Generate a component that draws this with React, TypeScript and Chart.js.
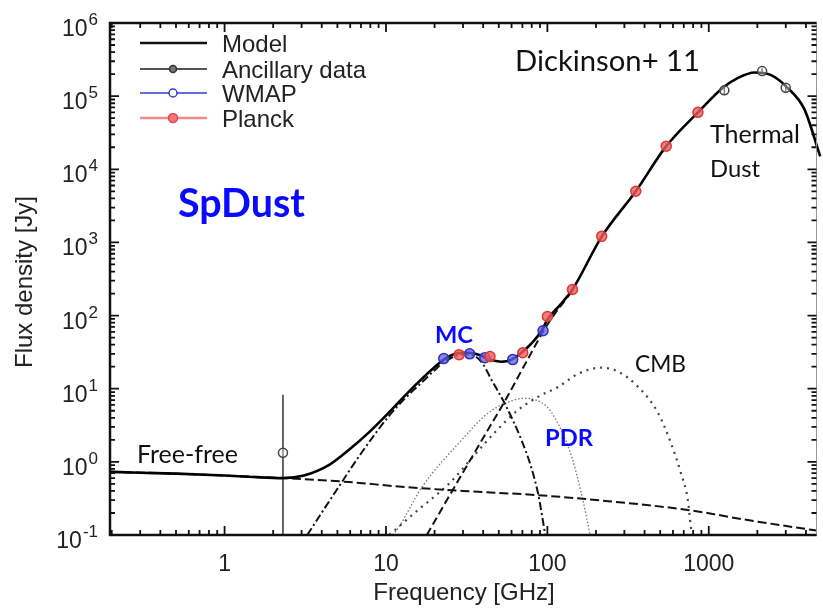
import React, { useEffect, useRef } from 'react';
import { Chart, registerables } from 'chart.js';

Chart.register(...registerables);

// ---------- data (frequency in GHz, flux density in Jy) ----------
const modelFreq = [0.195, 0.3, 0.5, 1, 1.5, 2.3, 3.1, 4.45, 5.9, 7.9, 10.4, 13.3, 16, 19.8, 22.8, 27, 32.5, 38, 43.2, 52, 60, 69, 80, 92, 100, 120, 143, 217, 353, 545, 857, 1249, 1500, 1920, 2415, 3075, 3915, 4900];
const modelFlux = [0.73, 0.71, 0.69, 0.65, 0.62, 0.6, 0.65, 0.91, 1.46, 2.57, 4.7, 8.3, 12.5, 19.4, 25, 30, 31, 29, 25.5, 23.4, 25, 31, 42, 62, 88, 140, 227, 1200, 5000, 20700, 60000, 135000, 175000, 210000, 195000, 130000, 66000, 15000];

const freeFreeFreq = [0.195, 0.5, 1, 2.3, 5.9, 12, 30, 88, 238, 742, 1740, 4650];
const freeFreeFlux = [0.73, 0.69, 0.65, 0.6, 0.53, 0.46, 0.4, 0.35, 0.29, 0.22, 0.16, 0.115];

const spinningFreq = [3.25, 4.9, 7, 10.4, 13.3, 16, 19.8, 22.8, 27, 31, 35, 40, 45, 55, 69, 80, 88, 97];
const spinningFlux = [0.1, 0.4, 1.3, 4.2, 7.6, 11.2, 17.5, 23, 28, 29.5, 28.5, 21.5, 13.3, 6.0, 2.0, 0.8, 0.35, 0.1];

const thermalFreq = [17.9, 25, 32.5, 45, 55, 73, 100, 143];
const thermalFlux = [0.1, 0.36, 0.97, 3.3, 7, 22, 75, 220];

const cmbFreq = [10.5, 15, 24.5, 32.5, 47.8, 65, 88, 117, 155, 215, 274, 365, 484, 582, 671, 742, 774, 790];
const cmbFlux = [0.1, 0.2, 0.5, 1.0, 2.6, 5.0, 7.8, 10.6, 16, 19.4, 17.1, 10.6, 4.7, 1.82, 0.71, 0.3, 0.13, 0.1];

const pdrFreq = [11, 12, 16.7, 29.5, 43.2, 60, 72, 85, 100, 112, 125, 141, 162, 184];
const pdrFlux = [0.1, 0.128, 0.45, 2.0, 4.7, 6.8, 7.4, 7.0, 5.6, 3.9, 2.4, 1.2, 0.38, 0.1];

const wmapFreq = [22.8, 33, 41, 61, 94];
const wmapFlux = [25.8, 30, 26.6, 25, 62];

const planckFreq = [28.4, 44.1, 70.4, 100, 143, 217, 353, 545, 857];
const planckFlux = [29.2, 27.5, 31, 97, 227, 1210, 5000, 20700, 60000];

const ancillaryFreq = [2.3, 1249, 2141, 2998];
const ancillaryFlux = [1.33, 120000, 220000, 130000];
const ancillaryErrLow = [0.1, 105000, 200000, 115000];
const ancillaryErrHigh = [8.3, 135000, 240000, 145000];

const xTickValues = [1, 10, 100, 1000];
const xTickLabels = ['1', '10', '100', '1000'];
const yTickExponents = [-1, 0, 1, 2, 3, 4, 5, 6];

const legendLabels = ['Model', 'Ancillary data', 'WMAP', 'Planck'];

const X_MIN = 0.195;
const X_MAX = 4650;
const Y_MIN = 0.1;
const Y_MAX = 1e6;

const AXIS_FONT = '"Liberation Sans", Arial, sans-serif';
const NOTE_FONT = 'Lato, "Open Sans", sans-serif';

const pts = (xs: number[], ys: number[]) => xs.map((x, i) => ({ x, y: ys[i] }));

function fitText(ctx: CanvasRenderingContext2D, text: string, x: number, y: number, weight: string, family: string, size: number, targetWidth: number, color: string) {
  ctx.font = `${weight} ${size}px ${family}`;
  const w = ctx.measureText(text).width;
  const s = w > 0 ? size * targetWidth / w : size;
  ctx.font = `${weight} ${s.toFixed(2)}px ${family}`;
  ctx.fillStyle = color;
  ctx.textAlign = 'left';
  ctx.textBaseline = 'alphabetic';
  ctx.fillText(text, x, y);
}

const decorPlugin = {
  id: 'decor',
  beforeDatasetsDraw(chart: any) {
    const { ctx, scales } = chart;
    const xs = scales.x, ys = scales.y;
    ctx.save();
    ctx.strokeStyle = '#333';
    ctx.lineWidth = 1.5;
    for (let i = 0; i < ancillaryFreq.length; i++) {
      const px = xs.getPixelForValue(ancillaryFreq[i]);
      const y1 = ys.getPixelForValue(ancillaryErrLow[i]);
      const y2 = ys.getPixelForValue(ancillaryErrHigh[i]);
      ctx.beginPath();
      ctx.moveTo(px, y1);
      ctx.lineTo(px, y2);
      ctx.stroke();
    }
    ctx.restore();
  },
  afterDatasetsDraw(chart: any) {
    const { ctx, chartArea: a, scales } = chart;
    const xs = scales.x, ys = scales.y;
    ctx.save();

    // frame
    ctx.strokeStyle = '#111';
    ctx.lineWidth = 2.5;
    ctx.beginPath();
    ctx.moveTo(a.right, a.top);
    ctx.lineTo(a.left, a.top);
    ctx.lineTo(a.left, a.bottom);
    ctx.lineTo(a.right, a.bottom);
    ctx.stroke();
    ctx.strokeStyle = '#999';
    ctx.lineWidth = 1;
    ctx.beginPath();
    ctx.moveTo(a.right, a.top);
    ctx.lineTo(a.right, a.bottom);
    ctx.stroke();

    // ticks (inward, all sides)
    ctx.strokeStyle = '#111';
    ctx.lineWidth = 1.8;
    const decadesX = [0.1, 1, 10, 100, 1000];
    for (const d of decadesX) {
      for (let m = 1; m <= 9; m++) {
        const v = m * d;
        if (v < X_MIN || v > X_MAX) continue;
        const px = xs.getPixelForValue(v);
        const len = m === 1 ? 9 : 5;
        ctx.beginPath();
        ctx.moveTo(px, a.bottom);
        ctx.lineTo(px, a.bottom - len);
        ctx.moveTo(px, a.top);
        ctx.lineTo(px, a.top + len);
        ctx.stroke();
      }
    }
    for (let e = -1; e <= 6; e++) {
      for (let m = 1; m <= 9; m++) {
        const v = m * Math.pow(10, e);
        if (v < Y_MIN || v > Y_MAX) continue;
        const py = ys.getPixelForValue(v);
        const len = m === 1 ? 9 : 5;
        ctx.beginPath();
        ctx.moveTo(a.left, py);
        ctx.lineTo(a.left + len, py);
        ctx.moveTo(a.right, py);
        ctx.lineTo(a.right - len, py);
        ctx.stroke();
      }
    }

    // x tick labels
    ctx.fillStyle = '#222';
    ctx.font = `23px ${AXIS_FONT}`;
    ctx.textAlign = 'center';
    ctx.textBaseline = 'alphabetic';
    xTickValues.forEach((v, i) => {
      ctx.fillText(xTickLabels[i], xs.getPixelForValue(v), a.bottom + 36);
    });

    // y tick labels 10^n
    const rightEdge = a.left - 12;
    yTickExponents.forEach((e) => {
      const py = ys.getPixelForValue(Math.pow(10, e));
      const expText = e < 0 ? '-' + Math.abs(e) : String(e);
      ctx.font = `17px ${AXIS_FONT}`;
      const ew = ctx.measureText(expText).width;
      ctx.textAlign = 'left';
      ctx.fillText(expText, rightEdge - ew, py + 2);
      ctx.font = `23px ${AXIS_FONT}`;
      const bw = ctx.measureText('10').width;
      ctx.fillText('10', rightEdge - ew - bw - 1, py + 13);
    });

    // axis titles
    ctx.font = `24px ${AXIS_FONT}`;
    ctx.textAlign = 'center';
    ctx.fillText('Frequency [GHz]', 464, 600);
    ctx.save();
    ctx.translate(32, 282);
    ctx.rotate(-Math.PI / 2);
    ctx.fillText('Flux density [Jy]', 0, 0);
    ctx.restore();

    // legend
    const rows = [
      { color: '#111', width: 2.5, marker: null as any },
      { color: '#555', width: 2, marker: { r: 3.5, stroke: '#333', fill: '#777' } },
      { color: '#3a3acc', width: 1.5, marker: { r: 4, stroke: '#3a3acc', fill: '#ffffff' } },
      { color: '#f08a8a', width: 2.5, marker: { r: 4.5, stroke: '#e04848', fill: '#f07878' } },
    ];
    const rowY = [43, 69, 93, 118];
    rows.forEach((r, i) => {
      const yy = rowY[i];
      ctx.strokeStyle = r.color;
      ctx.lineWidth = r.width;
      ctx.beginPath();
      ctx.moveTo(140, yy);
      ctx.lineTo(207, yy);
      ctx.stroke();
      if (r.marker) {
        ctx.beginPath();
        ctx.arc(173, yy, r.marker.r, 0, Math.PI * 2);
        ctx.fillStyle = r.marker.fill;
        ctx.fill();
        ctx.lineWidth = 1.5;
        ctx.strokeStyle = r.marker.stroke;
        ctx.stroke();
      }
      ctx.fillStyle = '#222';
      ctx.font = `24px ${AXIS_FONT}`;
      ctx.textAlign = 'left';
      ctx.fillText(legendLabels[i], 222, yy + 9);
    });

    // annotations
    fitText(ctx, 'Dickinson+ 11', 515, 71, 'normal', NOTE_FONT, 26, 185, '#111');
    fitText(ctx, 'Thermal', 710, 143, 'normal', NOTE_FONT, 23, 90, '#111');
    fitText(ctx, 'Dust', 710, 177, 'normal', NOTE_FONT, 23, 50, '#111');
    fitText(ctx, 'SpDust', 178, 217, 'bold', NOTE_FONT, 34, 127, '#0a0aff');
    fitText(ctx, 'MC', 435, 343, 'bold', NOTE_FONT, 23, 38, '#0a0aff');
    fitText(ctx, 'PDR', 545, 446, 'bold', NOTE_FONT, 23, 48, '#0a0aff');
    fitText(ctx, 'CMB', 635, 372, 'normal', NOTE_FONT, 23, 51, '#111');
    fitText(ctx, 'Free-free', 137, 463, 'normal', NOTE_FONT, 22, 101, '#111');

    ctx.restore();
  },
};

export default function App() {
  const ref = useRef<HTMLCanvasElement>(null);
  useEffect(() => {
    const lineDs = (label: string, xsArr: number[], ysArr: number[], color: string, width: number, dash: number[], extra: any = {}) => ({
      label,
      data: pts(xsArr, ysArr),
      showLine: true,
      borderColor: color,
      backgroundColor: color,
      borderWidth: width,
      borderDash: dash,
      pointRadius: 0,
      fill: false,
      cubicInterpolationMode: 'monotone',
      ...extra,
    });
    const chart = new Chart(ref.current as HTMLCanvasElement, {
      type: 'scatter',
      data: {
        datasets: [
          {
            label: 'Planck',
            data: pts(planckFreq, planckFlux),
            pointRadius: 5,
            pointBorderWidth: 1.5,
            borderColor: '#dd3535',
            backgroundColor: 'rgba(236,92,92,0.8)',
          },
          {
            label: 'WMAP',
            data: pts(wmapFreq, wmapFlux),
            pointRadius: 5,
            pointBorderWidth: 1.5,
            borderColor: '#3030c0',
            backgroundColor: 'rgba(95,95,225,0.75)',
          },
          {
            label: 'Ancillary data',
            data: pts(ancillaryFreq, ancillaryFlux),
            pointRadius: 4.5,
            pointBorderWidth: 1.5,
            borderColor: '#444',
            backgroundColor: 'rgba(255,255,255,0.4)',
          },
          lineDs('Model', modelFreq, modelFlux, '#000', 2.6, [], { clip: { left: 0, top: 0, right: 6, bottom: 0 } }),
          lineDs('Free-free', freeFreeFreq, freeFreeFlux, '#111', 2, [9, 4]),
          lineDs('Spinning dust (MC)', spinningFreq, spinningFlux, '#111', 2, [8, 3, 2, 3]),
          lineDs('Thermal dust', thermalFreq, thermalFlux, '#111', 2, [8, 4]),
          lineDs('CMB', cmbFreq, cmbFlux, '#444', 2.2, [2, 5]),
          lineDs('Spinning dust (PDR)', pdrFreq, pdrFlux, '#777', 1.3, [1.5, 2]),
        ],
      },
      options: {
        animation: false,
        responsive: true,
        maintainAspectRatio: false,
        events: [],
        layout: { padding: { left: 110, top: 23, right: 4, bottom: 78 } },
        plugins: { legend: { display: false }, tooltip: { enabled: false } },
        scales: {
          x: { type: 'logarithmic', min: X_MIN, max: X_MAX, display: false },
          y: { type: 'logarithmic', min: Y_MIN, max: Y_MAX, display: false },
        },
      } as any,
      plugins: [decorPlugin],
    });
    return () => chart.destroy();
  }, []);
  return (
    <div style={{ position: 'fixed', left: 0, top: 0, width: 823, height: 613, background: '#fff' }}>
      <canvas ref={ref} />
    </div>
  );
}
